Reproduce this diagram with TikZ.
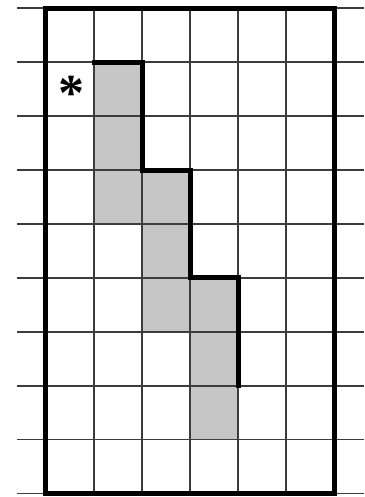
\documentclass[tikz,border=0pt]{standalone}
\usepackage{fontspec}
\newfontfamily\lsb{Liberation Serif}
\definecolor{cellgray}{RGB}{198,198,198}
\definecolor{linegray}{RGB}{60,60,60}
\begin{document}
\begin{tikzpicture}[x=1pt,y=-1pt,
  gridline/.style={draw=linegray,line width=1.8pt},
  heavyline/.style={draw=black,line width=5pt,line cap=rect,line join=miter},
  shadecell/.style={fill=cellgray,draw=none}]
\useasboundingbox (0,0) rectangle (364,497);
% shaded cells
\fill[shadecell] (94,62.2) rectangle (142,224);
\fill[shadecell] (142,170) rectangle (190,331.7);
\fill[shadecell] (190,277.8) rectangle (238,439.5);
% horizontal grid lines
\foreach \y in {8.3,62.2,116.1,170,223.9,277.8,331.7,385.6,439.5,493.4}
  \draw[gridline] (17,\y) -- (364,\y);
% vertical grid lines
\foreach \x in {94,142,190,238,286}
  \draw[gridline] (\x,8.3) -- (\x,493.4);
% outer frame
\draw[heavyline] (45.5,8.3) rectangle (334.3,493.4);
% staircase boundary
\draw[heavyline] (94,62.2) -- (142,62.2) -- (142,170) -- (190,170)
  -- (190,277.8) -- (238,277.8) -- (238,385.6);
% asterisk
\node[font=\lsb\bfseries\fontsize{52}{52}\selectfont,inner sep=0pt,anchor=base]
  (star) at (71,111) {*};
\end{tikzpicture}
\end{document}
